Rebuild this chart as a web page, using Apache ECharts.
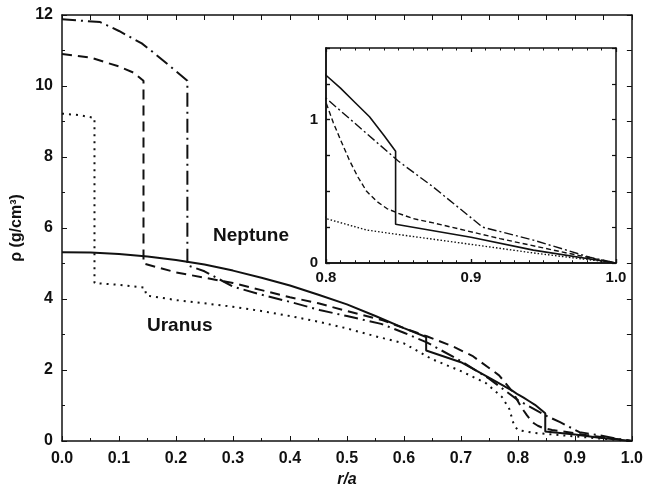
<!DOCTYPE html>
<html>
<head>
<meta charset="utf-8">
<script src="https://cdn.jsdelivr.net/npm/echarts@6/dist/echarts.min.js"></script>
<style>
  html, body { margin: 0; padding: 0; background: #fff; }
  #chart { width: 646px; height: 494px; }
</style>
</head>
<body>
<div id="chart"></div>
<script>
// density profiles, r/a vs rho (g/cm3); repeated r = vertical jump
const solidR = [0, 0.05, 0.1, 0.15, 0.2, 0.25, 0.3, 0.35, 0.4, 0.45, 0.5, 0.55, 0.6, 0.639, 0.639, 0.7, 0.75, 0.79, 0.8, 0.81, 0.82, 0.83, 0.84, 0.848, 0.848, 0.9, 0.943, 1.0]
const solidRho = [5.32, 5.31, 5.27, 5.2, 5.1, 4.97, 4.8, 4.6, 4.38, 4.12, 3.85, 3.52, 3.18, 2.93, 2.55, 2.22, 1.78, 1.42, 1.31, 1.22, 1.12, 1.02, 0.89, 0.78, 0.27, 0.18, 0.09, 0]

const dashR = [0, 0.05, 0.1, 0.125, 0.143, 0.143, 0.2, 0.25, 0.3, 0.35, 0.4, 0.45, 0.5, 0.563, 0.6, 0.64, 0.685, 0.72, 0.767, 0.79, 0.8, 0.805, 0.81, 0.816, 0.822, 0.828, 0.835, 0.842, 0.849, 0.86, 0.874, 0.92, 0.966, 1.0]
const dashRho = [10.9, 10.8, 10.55, 10.38, 10.15, 5.0, 4.75, 4.6, 4.45, 4.25, 4.05, 3.88, 3.66, 3.4, 3.18, 2.95, 2.67, 2.4, 1.85, 1.4, 1.12, 0.98, 0.86, 0.72, 0.6, 0.5, 0.43, 0.38, 0.35, 0.31, 0.28, 0.17, 0.07, 0]

const dashDotR = [0, 0.067, 0.1, 0.14, 0.16, 0.19, 0.22, 0.22, 0.25, 0.3, 0.35, 0.4, 0.452, 0.5, 0.56, 0.6, 0.64, 0.7, 0.75, 0.8, 0.85, 0.874, 0.908, 0.943, 0.982, 1.0]
const dashDotRho = [11.88, 11.8, 11.55, 11.2, 10.95, 10.55, 10.15, 4.95, 4.78, 4.35, 4.12, 3.92, 3.69, 3.52, 3.3, 3.05, 2.78, 2.25, 1.75, 1.15, 0.71, 0.53, 0.25, 0.16, 0.04, 0]

const dotR = [0, 0.03, 0.057, 0.057, 0.1, 0.145, 0.148, 0.2, 0.25, 0.3, 0.35, 0.4, 0.45, 0.5, 0.55, 0.6, 0.65, 0.7, 0.744, 0.772, 0.785, 0.793, 0.8, 0.828, 0.849, 0.9, 0.943, 1.0]
const dotRho = [9.22, 9.18, 9.1, 4.45, 4.4, 4.32, 4.1, 3.97, 3.88, 3.78, 3.66, 3.52, 3.36, 3.17, 2.95, 2.75, 2.3, 1.97, 1.63, 1.24, 0.9, 0.45, 0.31, 0.23, 0.2, 0.13, 0.07, 0]

const xTicksMain = [0, 1]
const yTicksMain = [0, 12]
const xTicksInset = [0.8, 1.0]
const yTicksInset = [0, 1.5]

const FONT = '"Liberation Sans", Arial, sans-serif'
const INK = '#111'

function zip(xs, ys) {
  return xs.map((x, i) => [x, ys[i]])
}

const chart = echarts.init(document.getElementById('chart'))

function axisBase(extra) {
  return Object.assign({
    type: 'value',
    axisLine: { show: true, onZero: false, lineStyle: { color: INK, width: 1.5 } },
    axisTick: { show: true, inside: true, length: 5, lineStyle: { color: INK, width: 1 } },
    minorTick: { show: false },
    splitLine: { show: false },
    axisLabel: { show: false }
  }, extra)
}

// inset axes: shorter ticks (fresh objects each time)
function insetTick() {
  return { show: true, inside: true, length: 4, lineStyle: { color: INK, width: 1.2 } }
}
function insetMinor() {
  return { show: true, splitNumber: 10, length: 2.5, lineStyle: { color: INK } }
}

const labelStyle = { show: true, color: INK, fontFamily: FONT, fontWeight: 'bold', fontSize: 16 }

function lineSeries(name, data, xi, yi, type, width) {
  return {
    name: name,
    type: 'line',
    xAxisIndex: xi,
    yAxisIndex: yi,
    data: data,
    symbol: 'none',
    clip: true,
    lineStyle: { color: INK, width: width, type: type, cap: 'butt' },
    animation: false
  }
}

const insetRect = { left: 326, top: 48, width: 290, height: 215 }

chart.setOption({
  backgroundColor: '#fff',
  grid: [
    { left: 62, top: 15, width: 571, height: 426 },
    Object.assign({}, insetRect),
    // same box again, only carries the bottom/left tick marks of the inset
    Object.assign({}, insetRect)
  ],
  xAxis: [
    axisBase({
      gridIndex: 0, position: 'bottom', min: xTicksMain[0], max: xTicksMain[1], interval: 0.1,
      minorTick: { show: true, splitNumber: 2, length: 3, lineStyle: { color: INK } },
      axisLabel: Object.assign({}, labelStyle, { margin: 10, formatter: v => v.toFixed(1) }),
      name: 'r/a', nameLocation: 'middle', nameGap: 30,
      nameTextStyle: { color: INK, fontFamily: FONT, fontWeight: 'bold', fontStyle: 'italic', fontSize: 16 }
    }),
    axisBase({
      gridIndex: 0, position: 'top', min: xTicksMain[0], max: xTicksMain[1], interval: 0.05
    }),
    axisBase({
      gridIndex: 1, position: 'bottom', min: xTicksInset[0], max: xTicksInset[1], interval: 0.1,
      axisTick: insetTick(),
      minorTick: insetMinor(),
      axisLabel: Object.assign({}, labelStyle, { fontSize: 15, margin: 7, formatter: v => v.toFixed(1) })
    }),
    axisBase({
      gridIndex: 1, position: 'top', min: xTicksInset[0], max: xTicksInset[1], interval: 0.1,
      axisTick: insetTick(),
      minorTick: insetMinor()
    }),
    axisBase({
      gridIndex: 2, position: 'bottom', min: xTicksInset[0], max: xTicksInset[1], interval: 0.1,
      axisTick: insetTick(),
      minorTick: insetMinor()
    })
  ],
  yAxis: [
    axisBase({
      gridIndex: 0, position: 'left', min: yTicksMain[0], max: yTicksMain[1], interval: 2,
      minorTick: { show: true, splitNumber: 2, length: 3, lineStyle: { color: INK } },
      axisLabel: Object.assign({}, labelStyle, { margin: 9 }),
      name: 'ρ (g/cm³)', nameLocation: 'middle', nameGap: 34,
      nameTextStyle: { color: INK, fontFamily: FONT, fontWeight: 'bold', fontSize: 16 }
    }),
    axisBase({
      gridIndex: 0, position: 'right', min: yTicksMain[0], max: yTicksMain[1], interval: 1
    }),
    axisBase({
      gridIndex: 1, position: 'left', min: yTicksInset[0], max: yTicksInset[1], interval: 0.25,
      axisTick: insetTick(),
      axisLabel: Object.assign({}, labelStyle, { fontSize: 15, margin: 8,
        formatter: v => (Math.abs(v - Math.round(v)) < 1e-6 && v < 1.5) ? String(Math.round(v)) : '' })
    }),
    axisBase({
      gridIndex: 1, position: 'right', min: yTicksInset[0], max: yTicksInset[1], interval: 0.25,
      axisTick: insetTick()
    }),
    axisBase({
      gridIndex: 2, position: 'left', min: yTicksInset[0], max: yTicksInset[1], interval: 0.25,
      axisTick: insetTick()
    })
  ],
  graphic: [
    { type: 'text', left: 213, top: 226, z: 10,
      style: { text: 'Neptune', fill: INK, font: 'bold 19px ' + FONT } },
    { type: 'text', left: 147, top: 316, z: 10,
      style: { text: 'Uranus', fill: INK, font: 'bold 19px ' + FONT } }
  ],
  series: [
    lineSeries('solid', zip(solidR, solidRho), 0, 0, 'solid', 2),
    lineSeries('dashed', zip(dashR, dashRho), 0, 0, [10, 6], 2),
    lineSeries('dashdot', zip(dashDotR, dashDotRho), 0, 0, [14, 5, 2, 5], 2),
    lineSeries('dotted', zip(dotR, dotRho), 0, 0, [2, 5], 2),
    lineSeries('solid-inset', zip(solidR, solidRho), 2, 2, 'solid', 1.6),
    lineSeries('dashed-inset', zip(dashR, dashRho), 2, 2, [5, 3], 1.4),
    lineSeries('dashdot-inset', zip(dashDotR, dashDotRho), 2, 2, [9, 3, 2, 3], 1.4),
    lineSeries('dotted-inset', zip(dotR, dotRho), 2, 2, [1.5, 2], 1.4)
  ]
})
</script>
</body>
</html>
